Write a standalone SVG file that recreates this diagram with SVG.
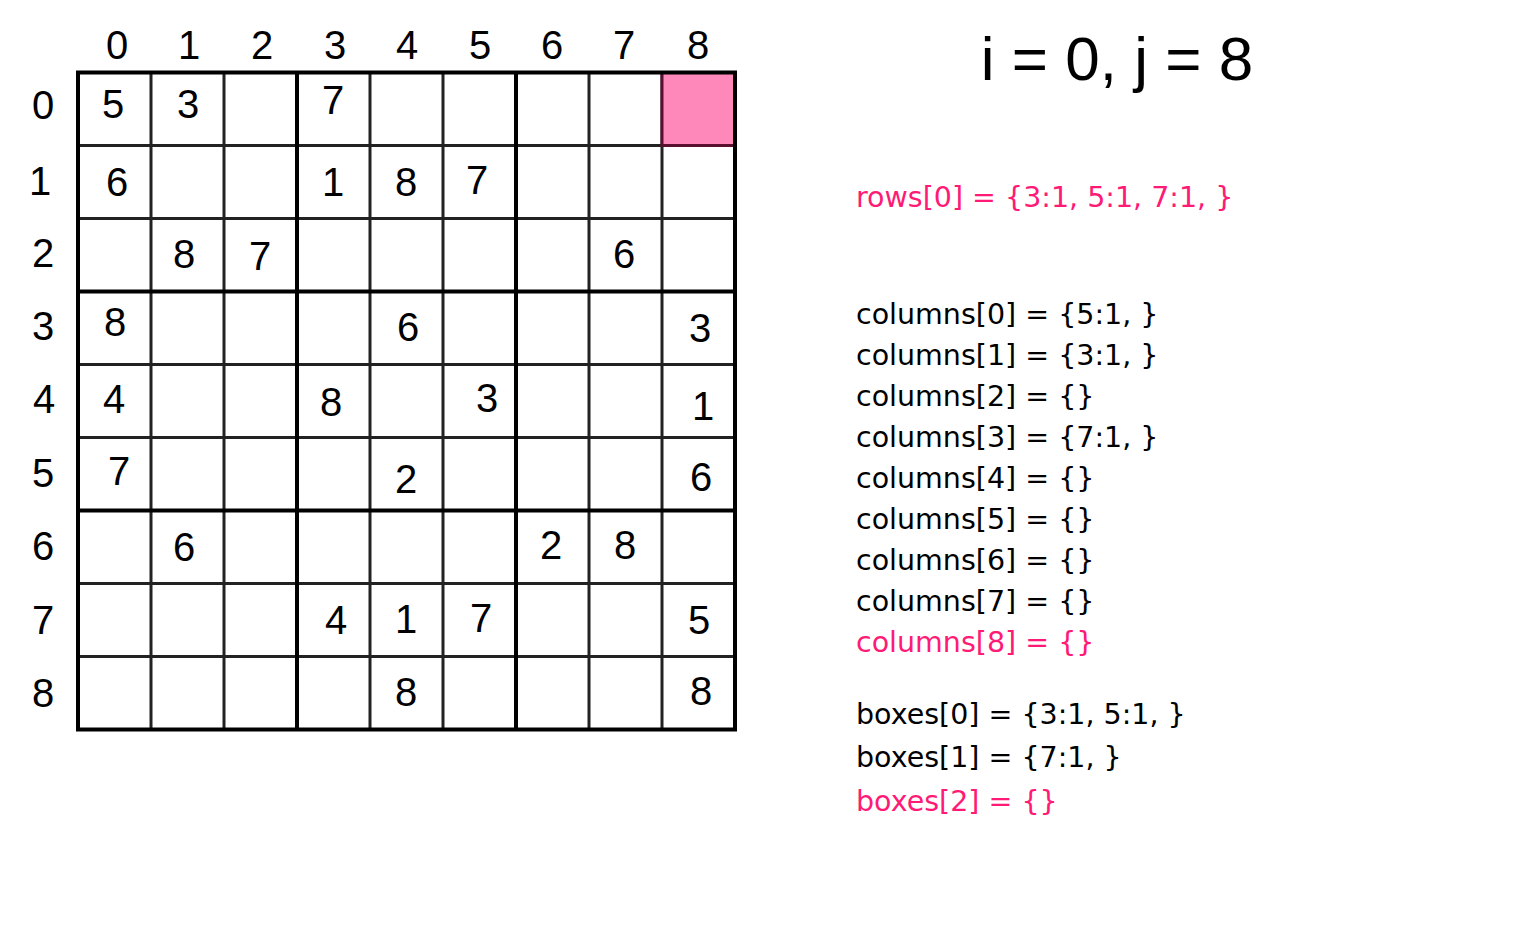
<svg xmlns="http://www.w3.org/2000/svg" width="1540" height="950" viewBox="0 0 1540 950">
<style>
.d{font-family:"Liberation Sans",Arial,sans-serif;font-size:40px;fill:#000;text-anchor:middle}
.h{font-family:"Liberation Sans",Arial,sans-serif;font-size:40px;fill:#000;text-anchor:middle}
.t{font-family:"DejaVu Sans",sans-serif;font-size:28.5px;fill:#000}
.p{fill:#ff1a75}
.thin{stroke:#222;stroke-width:3;fill:none}
.thick{stroke:#000;stroke-width:4;fill:none}
</style>
<rect width="1540" height="950" fill="#fff"/>
<g id="grid">
<path class="thin" d="M151 72.5V729.5M224 72.5V729.5M370 72.5V729.5M443 72.5V729.5M589 72.5V729.5M662 72.5V729.5M78 145.5H735M78 218.5H735M78 364.5H735M78 437.5H735M78 583.5H735M78 656.5H735"/>
<path class="thick" d="M297 72.5V729.5M516 72.5V729.5M78 291.5H735M78 510.5H735"/>
</g>
<g id="highlight"><rect x="662" y="72.5" width="73" height="73" fill="#ff88bb" stroke="#5a0f2e" stroke-width="3"/></g>
<g id="border"><rect class="thick" x="78" y="72.5" width="657" height="657"/></g>
<g id="col-headers">
<text class="h" x="117" y="59">0</text><text class="h" x="189" y="59">1</text><text class="h" x="262" y="59">2</text><text class="h" x="335" y="59">3</text><text class="h" x="407" y="59">4</text><text class="h" x="480" y="59">5</text><text class="h" x="552" y="59">6</text><text class="h" x="624" y="59">7</text><text class="h" x="698" y="59">8</text>
</g>
<g id="row-headers">
<text class="h" x="43" y="119">0</text><text class="h" x="40" y="195">1</text><text class="h" x="43" y="267">2</text><text class="h" x="43" y="340">3</text><text class="h" x="44" y="413">4</text><text class="h" x="43" y="487">5</text><text class="h" x="43" y="560">6</text><text class="h" x="43" y="634">7</text><text class="h" x="43" y="707">8</text>
</g>
<g id="cells">
<text class="d" x="113" y="118">5</text><text class="d" x="188" y="118">3</text><text class="d" x="333" y="114">7</text>
<text class="d" x="117" y="196">6</text><text class="d" x="333" y="196">1</text><text class="d" x="406" y="196">8</text><text class="d" x="477" y="194">7</text>
<text class="d" x="184" y="268">8</text><text class="d" x="260" y="270">7</text><text class="d" x="624" y="268">6</text>
<text class="d" x="115" y="336">8</text><text class="d" x="408" y="341">6</text><text class="d" x="700" y="342">3</text>
<text class="d" x="114" y="413">4</text><text class="d" x="331" y="416">8</text><text class="d" x="487" y="412">3</text><text class="d" x="703" y="420">1</text>
<text class="d" x="119" y="485">7</text><text class="d" x="406" y="493">2</text><text class="d" x="701" y="491">6</text>
<text class="d" x="184" y="561">6</text><text class="d" x="551" y="559">2</text><text class="d" x="625" y="559">8</text>
<text class="d" x="336" y="634">4</text><text class="d" x="406" y="633">1</text><text class="d" x="481" y="632">7</text><text class="d" x="699" y="634">5</text>
<text class="d" x="406" y="706">8</text><text class="d" x="701" y="705">8</text>
</g>
<g id="title"><text x="1117" y="80" style="font-family:'Liberation Sans',Arial,sans-serif;font-size:62px;text-anchor:middle">i = 0, j = 8</text></g>
<g id="rows"><text class="t p" x="856" y="207">rows[0] = {3:1, 5:1, 7:1, }</text></g>
<g id="columns">
<text class="t" x="856" y="324">columns[0] = {5:1, }</text>
<text class="t" x="856" y="365">columns[1] = {3:1, }</text>
<text class="t" x="856" y="406">columns[2] = {}</text>
<text class="t" x="856" y="447">columns[3] = {7:1, }</text>
<text class="t" x="856" y="488">columns[4] = {}</text>
<text class="t" x="856" y="529">columns[5] = {}</text>
<text class="t" x="856" y="570">columns[6] = {}</text>
<text class="t" x="856" y="611">columns[7] = {}</text>
<text class="t p" x="856" y="652">columns[8] = {}</text>
</g>
<g id="boxes">
<text class="t" x="856" y="724">boxes[0] = {3:1, 5:1, }</text>
<text class="t" x="856" y="767">boxes[1] = {7:1, }</text>
<text class="t p" x="856" y="811">boxes[2] = {}</text>
</g>
</svg>
